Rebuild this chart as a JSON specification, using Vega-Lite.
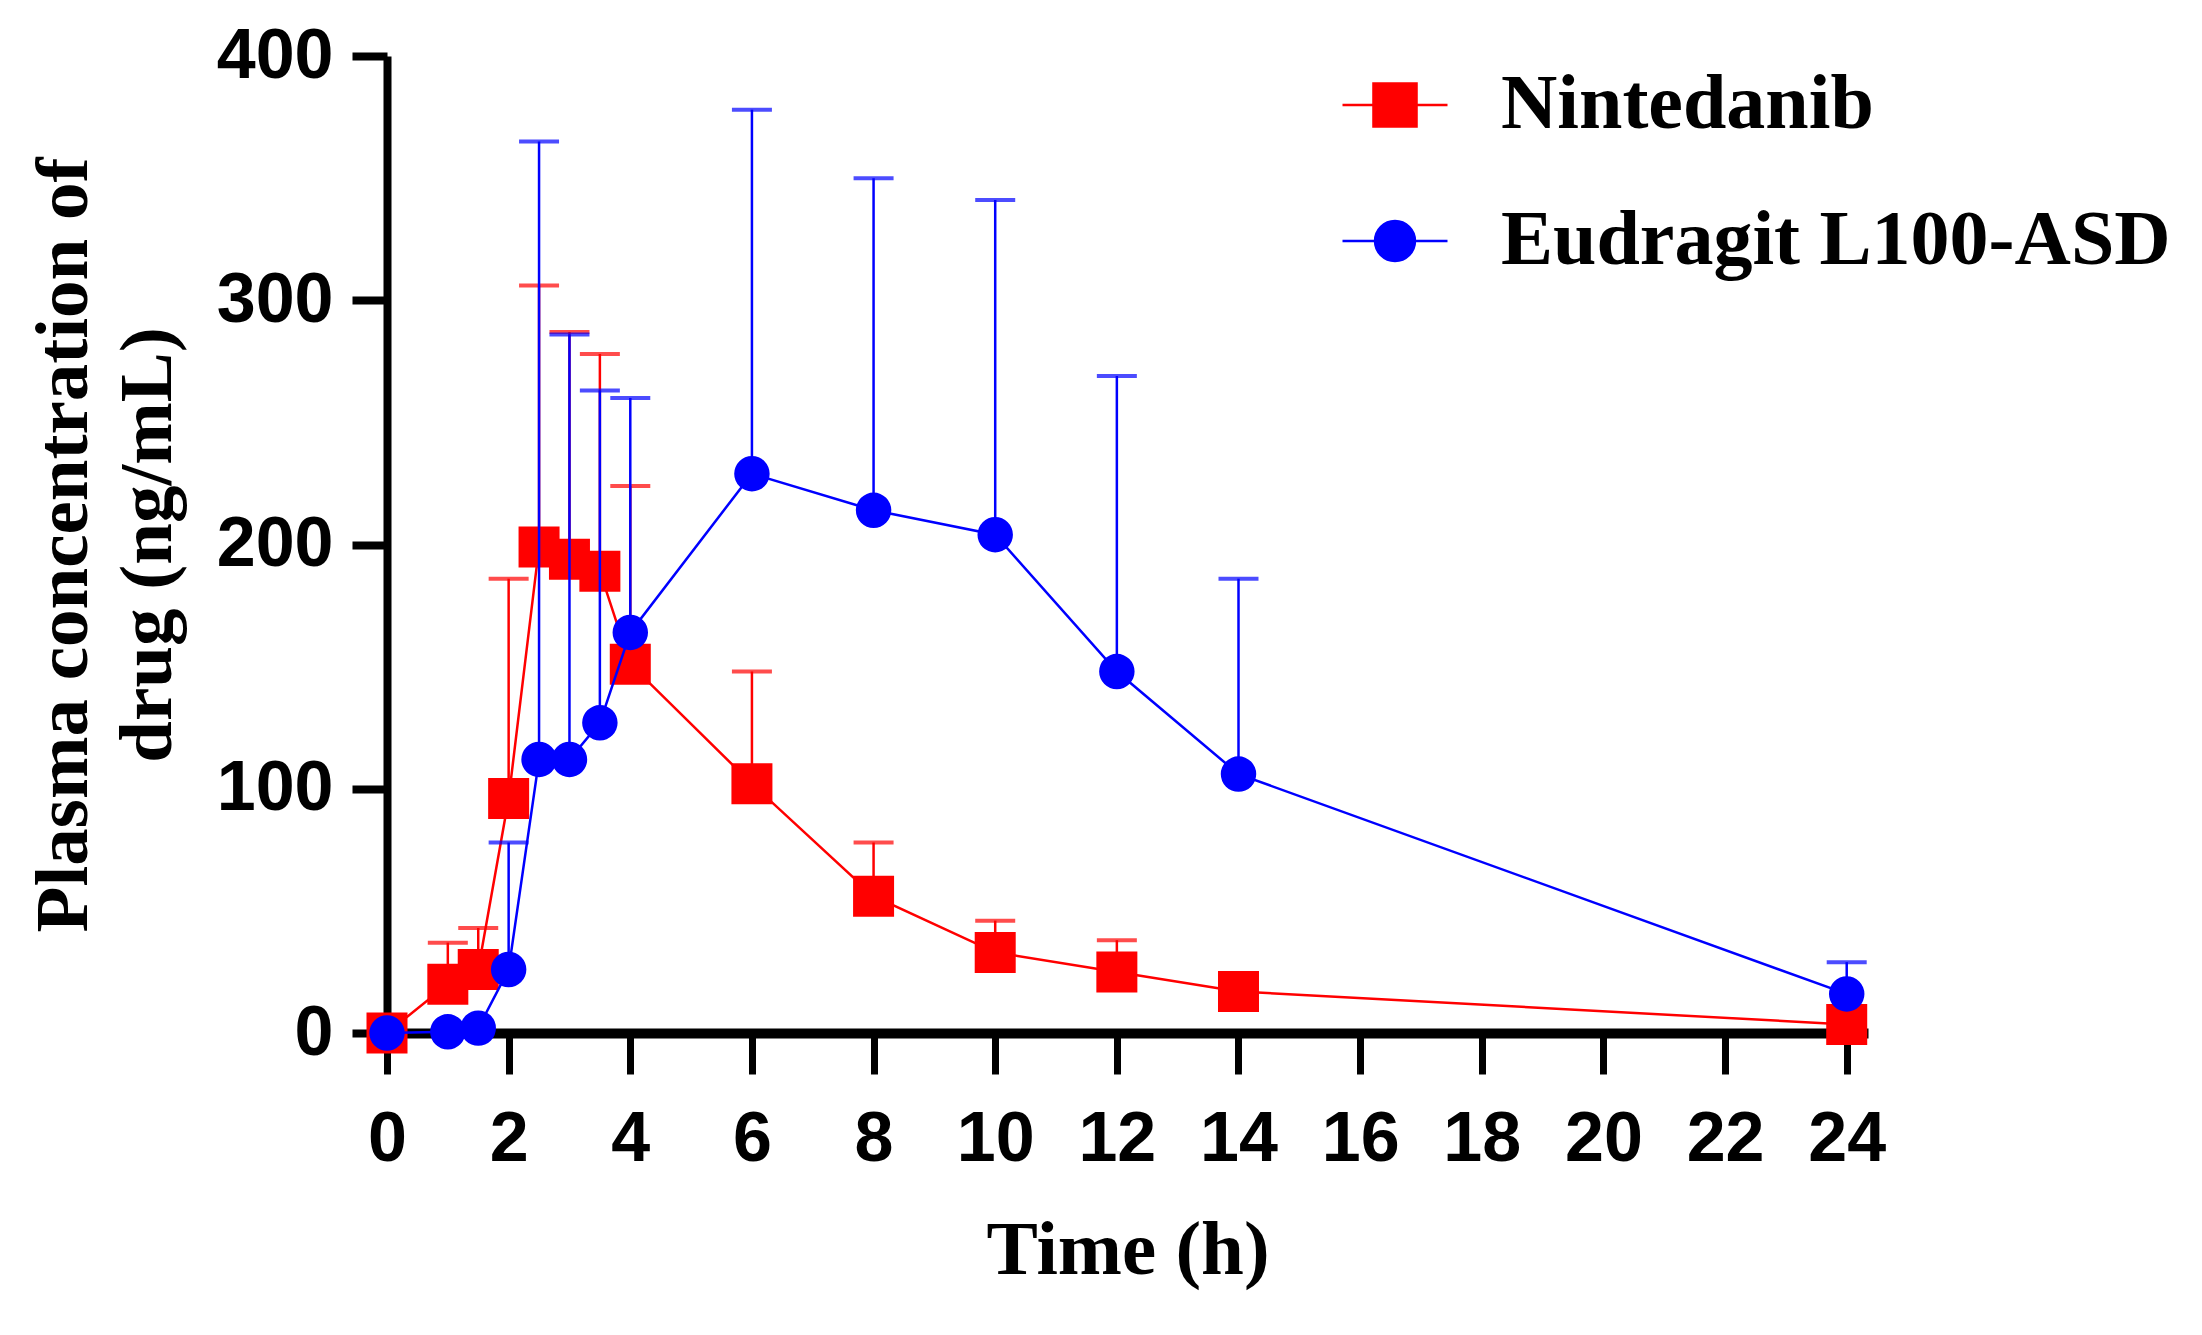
{
  "$schema": "https://vega.github.io/schema/vega-lite/v6.json",
  "width": 1481,
  "height": 977,
  "autosize": "none",
  "padding": {"left": 387, "top": 56, "right": 334, "bottom": 302},
  "background": "white",
  "data": {
    "values": [
      {"series": "Nintedanib", "t": 0, "mean": 0},
      {"series": "Nintedanib", "t": 1, "mean": 20, "upper": 37},
      {"series": "Nintedanib", "t": 1.5, "mean": 26, "upper": 43},
      {"series": "Nintedanib", "t": 2, "mean": 96, "upper": 186},
      {"series": "Nintedanib", "t": 2.5, "mean": 199, "upper": 306},
      {"series": "Nintedanib", "t": 3, "mean": 194, "upper": 287},
      {"series": "Nintedanib", "t": 3.5, "mean": 189, "upper": 278},
      {"series": "Nintedanib", "t": 4, "mean": 151, "upper": 224},
      {"series": "Nintedanib", "t": 6, "mean": 102, "upper": 148},
      {"series": "Nintedanib", "t": 8, "mean": 56, "upper": 78},
      {"series": "Nintedanib", "t": 10, "mean": 33, "upper": 46},
      {"series": "Nintedanib", "t": 12, "mean": 25, "upper": 38},
      {"series": "Nintedanib", "t": 14, "mean": 17},
      {"series": "Nintedanib", "t": 24, "mean": 3.5},
      {"series": "Eudragit L100-ASD", "t": 0, "mean": 0},
      {"series": "Eudragit L100-ASD", "t": 1, "mean": 0.5},
      {"series": "Eudragit L100-ASD", "t": 1.5, "mean": 2},
      {"series": "Eudragit L100-ASD", "t": 2, "mean": 26, "upper": 78},
      {"series": "Eudragit L100-ASD", "t": 2.5, "mean": 112, "upper": 365},
      {"series": "Eudragit L100-ASD", "t": 3, "mean": 112, "upper": 286},
      {"series": "Eudragit L100-ASD", "t": 3.5, "mean": 127, "upper": 263},
      {"series": "Eudragit L100-ASD", "t": 4, "mean": 164, "upper": 260},
      {"series": "Eudragit L100-ASD", "t": 6, "mean": 229, "upper": 378},
      {"series": "Eudragit L100-ASD", "t": 8, "mean": 214, "upper": 350},
      {"series": "Eudragit L100-ASD", "t": 10, "mean": 204, "upper": 341},
      {"series": "Eudragit L100-ASD", "t": 12, "mean": 148, "upper": 269},
      {"series": "Eudragit L100-ASD", "t": 14, "mean": 106, "upper": 186},
      {"series": "Eudragit L100-ASD", "t": 24, "mean": 16, "upper": 29}
    ]
  },
  "encoding": {
    "x": {
      "field": "t",
      "type": "quantitative",
      "title": "Time (h)",
      "scale": {"domain": [0, 24.35], "nice": false, "zero": false},
      "axis": {"values": [0, 2, 4, 6, 8, 10, 12, 14, 16, 18, 20, 22, 24]}
    },
    "y": {
      "field": "mean",
      "type": "quantitative",
      "title": ["Plasma concentration of", "drug (ng/mL)"],
      "scale": {"domain": [0, 400], "nice": false},
      "axis": {"values": [0, 100, 200, 300, 400]}
    }
  },
  "layer": [
    {
      "transform": [{"filter": "datum.series === 'Nintedanib'"}],
      "layer": [
        {"mark": {"type": "line", "color": "#ff0000", "strokeWidth": 2.5}, "encoding": {}},
        {
          "transform": [{"filter": "isValid(datum.upper)"}],
          "mark": {"type": "rule", "color": "#ff0000", "strokeWidth": 2.5},
          "encoding": {"y2": {"field": "upper"}}
        },
        {
          "transform": [{"filter": "isValid(datum.upper)"}],
          "mark": {"type": "tick", "orient": "horizontal", "color": "#ff0000", "size": 40, "thickness": 4},
          "encoding": {"y": {"field": "upper", "type": "quantitative", "title": ["Plasma concentration of", "drug (ng/mL)"], "axis": {"values": [0, 100, 200, 300, 400]}}}
        },
        {"mark": {"type": "point", "shape": "square", "filled": true, "size": 1681, "opacity": 1, "color": "#ff0000"}}
      ]
    },
    {
      "transform": [{"filter": "datum.series === 'Eudragit L100-ASD'"}],
      "layer": [
        {"mark": {"type": "line", "color": "#0000ff", "strokeWidth": 2.5}, "encoding": {}},
        {
          "transform": [{"filter": "isValid(datum.upper)"}],
          "mark": {"type": "rule", "color": "#0000ff", "strokeWidth": 2.5},
          "encoding": {"y2": {"field": "upper"}}
        },
        {
          "transform": [{"filter": "isValid(datum.upper)"}],
          "mark": {"type": "tick", "orient": "horizontal", "color": "#0000ff", "size": 40, "thickness": 4},
          "encoding": {"y": {"field": "upper", "type": "quantitative", "title": ["Plasma concentration of", "drug (ng/mL)"], "axis": {"values": [0, 100, 200, 300, 400]}}}
        },
        {"mark": {"type": "point", "shape": "circle", "filled": true, "size": 1257, "opacity": 1, "color": "#0000ff"}}
      ]
    },
    {
      "transform": [{"filter": "false"}],
      "mark": {"type": "point", "filled": true, "opacity": 1},
      "encoding": {
        "color": {
          "field": "series",
          "type": "nominal",
          "scale": {"domain": ["Nintedanib", "Eudragit L100-ASD"], "range": ["#ff0000", "#0000ff"]},
          "legend": {
            "orient": "none",
            "legendX": 954,
            "legendY": -5,
            "title": null,
            "padding": 0,
            "labelFont": "Liberation Serif",
            "labelFontSize": 78,
            "labelFontWeight": "bold",
            "labelColor": "black",
            "labelLimit": 1000,
            "labelOffset": 52,
            "rowPadding": 43,
            "symbolSize": 11025,
            "symbolStrokeWidth": 2.5,
            "symbolOpacity": 1,
            "encode": {
              "symbols": {
                "update": {
                  "stroke": {"signal": "datum.value === 'Nintedanib' ? '#ff0000' : '#0000ff'"},
                  "strokeWidth": {"value": 2.5}
                }
              }
            }
          }
        },
        "shape": {
          "field": "series",
          "type": "nominal",
          "scale": {
            "domain": ["Nintedanib", "Eudragit L100-ASD"],
            "range": [
              "M-1,0H1M-0.41,-0.41H0.41V0.41H-0.41Z",
              "M-1,0H1M0.38,0A0.38,0.38,0,1,1,-0.38,0A0.38,0.38,0,1,1,0.38,0"
            ]
          }
        }
      }
    }
  ],
  "config": {
    "view": {"stroke": null},
    "axisX": {
      "grid": false,
      "domainColor": "black",
      "domainWidth": 10,
      "tickColor": "black",
      "tickWidth": 7,
      "tickSize": 41,
      "labelFont": "Liberation Sans",
      "labelFontWeight": "bold",
      "labelFontSize": 70,
      "labelColor": "black",
      "labelPadding": 31,
      "labelFlush": false,
      "labelOverlap": false,
      "titleFont": "Liberation Serif",
      "titleFontWeight": "bold",
      "titleFontSize": 77,
      "titleColor": "black",
      "titlePadding": 38
    },
    "axisY": {
      "grid": false,
      "domainColor": "black",
      "domainWidth": 8,
      "tickColor": "black",
      "tickWidth": 8,
      "tickSize": 35,
      "labelFont": "Liberation Sans",
      "labelFontWeight": "bold",
      "labelFontSize": 70,
      "labelColor": "black",
      "labelPadding": 19,
      "titleFont": "Liberation Serif",
      "titleFontWeight": "bold",
      "titleFontSize": 75,
      "titleLineHeight": 84,
      "titleColor": "black",
      "titlePadding": 30
    }
  }
}
